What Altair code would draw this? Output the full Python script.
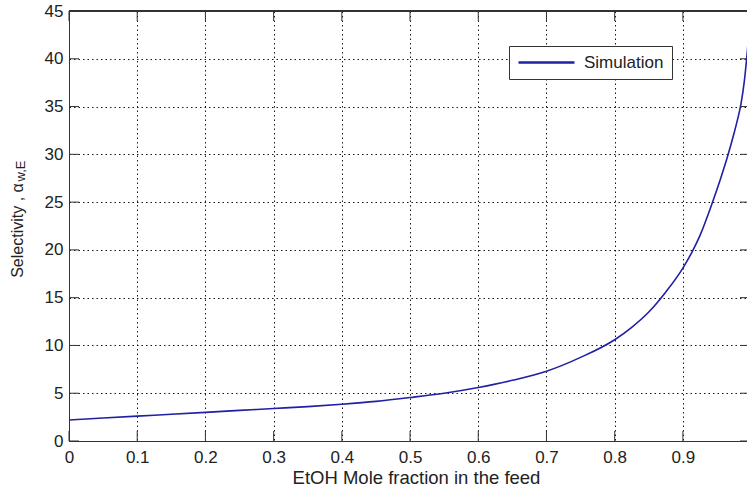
import altair as alt
import pandas as pd

# ---- data ----
x_vals = [0.0, 0.05, 0.1, 0.15, 0.2, 0.25, 0.3, 0.35, 0.4, 0.45, 0.5, 0.55, 0.6,
          0.65, 0.7, 0.75, 0.8, 0.825, 0.85, 0.875, 0.9, 0.915, 0.925,
          0.942, 0.955, 0.966, 0.975, 0.98, 0.985, 0.99, 0.994, 0.997]
sel_vals = [2.2, 2.4, 2.6, 2.8, 3.0, 3.2, 3.4, 3.6, 3.85, 4.15, 4.55, 5.0, 5.6,
            6.35, 7.3, 8.75, 10.6, 11.9, 13.5, 15.6, 18.1, 20.0, 21.5,
            24.7, 27.4, 29.9, 32.2, 33.6, 35.2, 37.6, 40.4, 42.8]
series_name = ["Simulation"]
x_ticks = [0, 0.1, 0.2, 0.3, 0.4, 0.5, 0.6, 0.7, 0.8, 0.9]
y_ticks = [0, 5, 10, 15, 20, 25, 30, 35, 40, 45]
subscript = ["w,E"]

W, H = 678, 430
XMAX = 0.994
FONT = "Liberation Sans"
TXT = "#222222"
FRAME = "#333333"
BLUE = "#2020a4"

df = pd.DataFrame({"x": x_vals, "y": sel_vals, "s": series_name * len(x_vals)})
xt = pd.DataFrame({"x": x_ticks})
yt = pd.DataFrame({"y": y_ticks})

xscale = alt.Scale(domain=[0, XMAX], nice=False, zero=False)
yscale = alt.Scale(domain=[0, 45], nice=False)

xaxis = alt.Axis(values=x_ticks, format="~g", title="EtOH Mole fraction in the feed",
                 grid=True, gridDash=[1.5, 3], gridColor="#000", gridOpacity=0.9,
                 tickSize=0, domainColor=FRAME, labelFont=FONT, labelFontSize=17,
                 labelColor=TXT, labelBaseline="alphabetic", labelPadding=21,
                 labelFlush=False, titleFont=FONT, titleFontSize=18.5, titleFontWeight="normal",
                 titleColor=TXT, titleX=347, titleY=42, titleBaseline="alphabetic",
                 titleAlign="center")
yaxis = alt.Axis(values=y_ticks, title="Selectivity , α",
                 grid=True, gridDash=[1.5, 3], gridColor="#000", gridOpacity=0.9,
                 tickSize=0, domainColor=FRAME, labelFont=FONT, labelFontSize=17,
                 labelColor=TXT, labelPadding=6, labelFlush=False,
                 titleFont=FONT, titleFontSize=16, titleFontWeight="normal",
                 titleColor=TXT, titleAngle=270, titleX=-47, titleY=219,
                 titleBaseline="alphabetic", titleAlign="center")

X = alt.X("x:Q", scale=xscale, axis=xaxis)
Y = alt.Y("y:Q", scale=yscale, axis=yaxis)

line = alt.Chart(df).mark_line(strokeWidth=1.6, interpolate="monotone", clip=True).encode(
    x=X, y=Y,
    color=alt.Color("s:N", scale=alt.Scale(domain=series_name, range=[BLUE]),
                    legend=alt.Legend(title=None, orient="none", legendX=440, legendY=35,
                                      strokeColor=FRAME, fillColor="white", padding=8,
                                      symbolType="stroke", symbolSize=3136,
                                      symbolStrokeWidth=2.5, labelFont=FONT,
                                      labelFontSize=17, labelColor=TXT, labelOffset=8,
                                      clipHeight=17, cornerRadius=0)),
)

tick_bottom = alt.Chart(xt).mark_rule(color=FRAME).encode(
    x=X, y=alt.value(H), y2=alt.value(H - 10))
tick_top = alt.Chart(xt).mark_rule(color=FRAME).encode(
    x=X, y=alt.value(0), y2=alt.value(10))
tick_left = alt.Chart(yt).mark_rule(color=FRAME).encode(
    y=Y, x=alt.value(0), x2=alt.value(10))
tick_right = alt.Chart(yt).mark_rule(color=FRAME).encode(
    y=Y, x=alt.value(W - 7), x2=alt.value(W + 3))
top_border = alt.Chart(xt).mark_rule(color=FRAME).encode(
    x=alt.value(0), x2=alt.value(W), y=alt.value(0))
sub = alt.Chart(pd.DataFrame({"t": subscript})).mark_text(
    angle=270, fontSize=13, align="center", baseline="alphabetic", font=FONT, color=TXT
).encode(x=alt.value(-44), y=alt.value(160), text="t:N")

chart = alt.layer(line, tick_bottom, tick_top, tick_left, tick_right, top_border, sub).properties(
    width=W, height=H,
    autosize=alt.AutoSizeParams(type="none"),
    padding={"left": 69, "top": 11, "right": 0, "bottom": 45},
).configure_view(stroke=None)

chart.save("out.html", embed_options={"renderer": "svg", "actions": False})
